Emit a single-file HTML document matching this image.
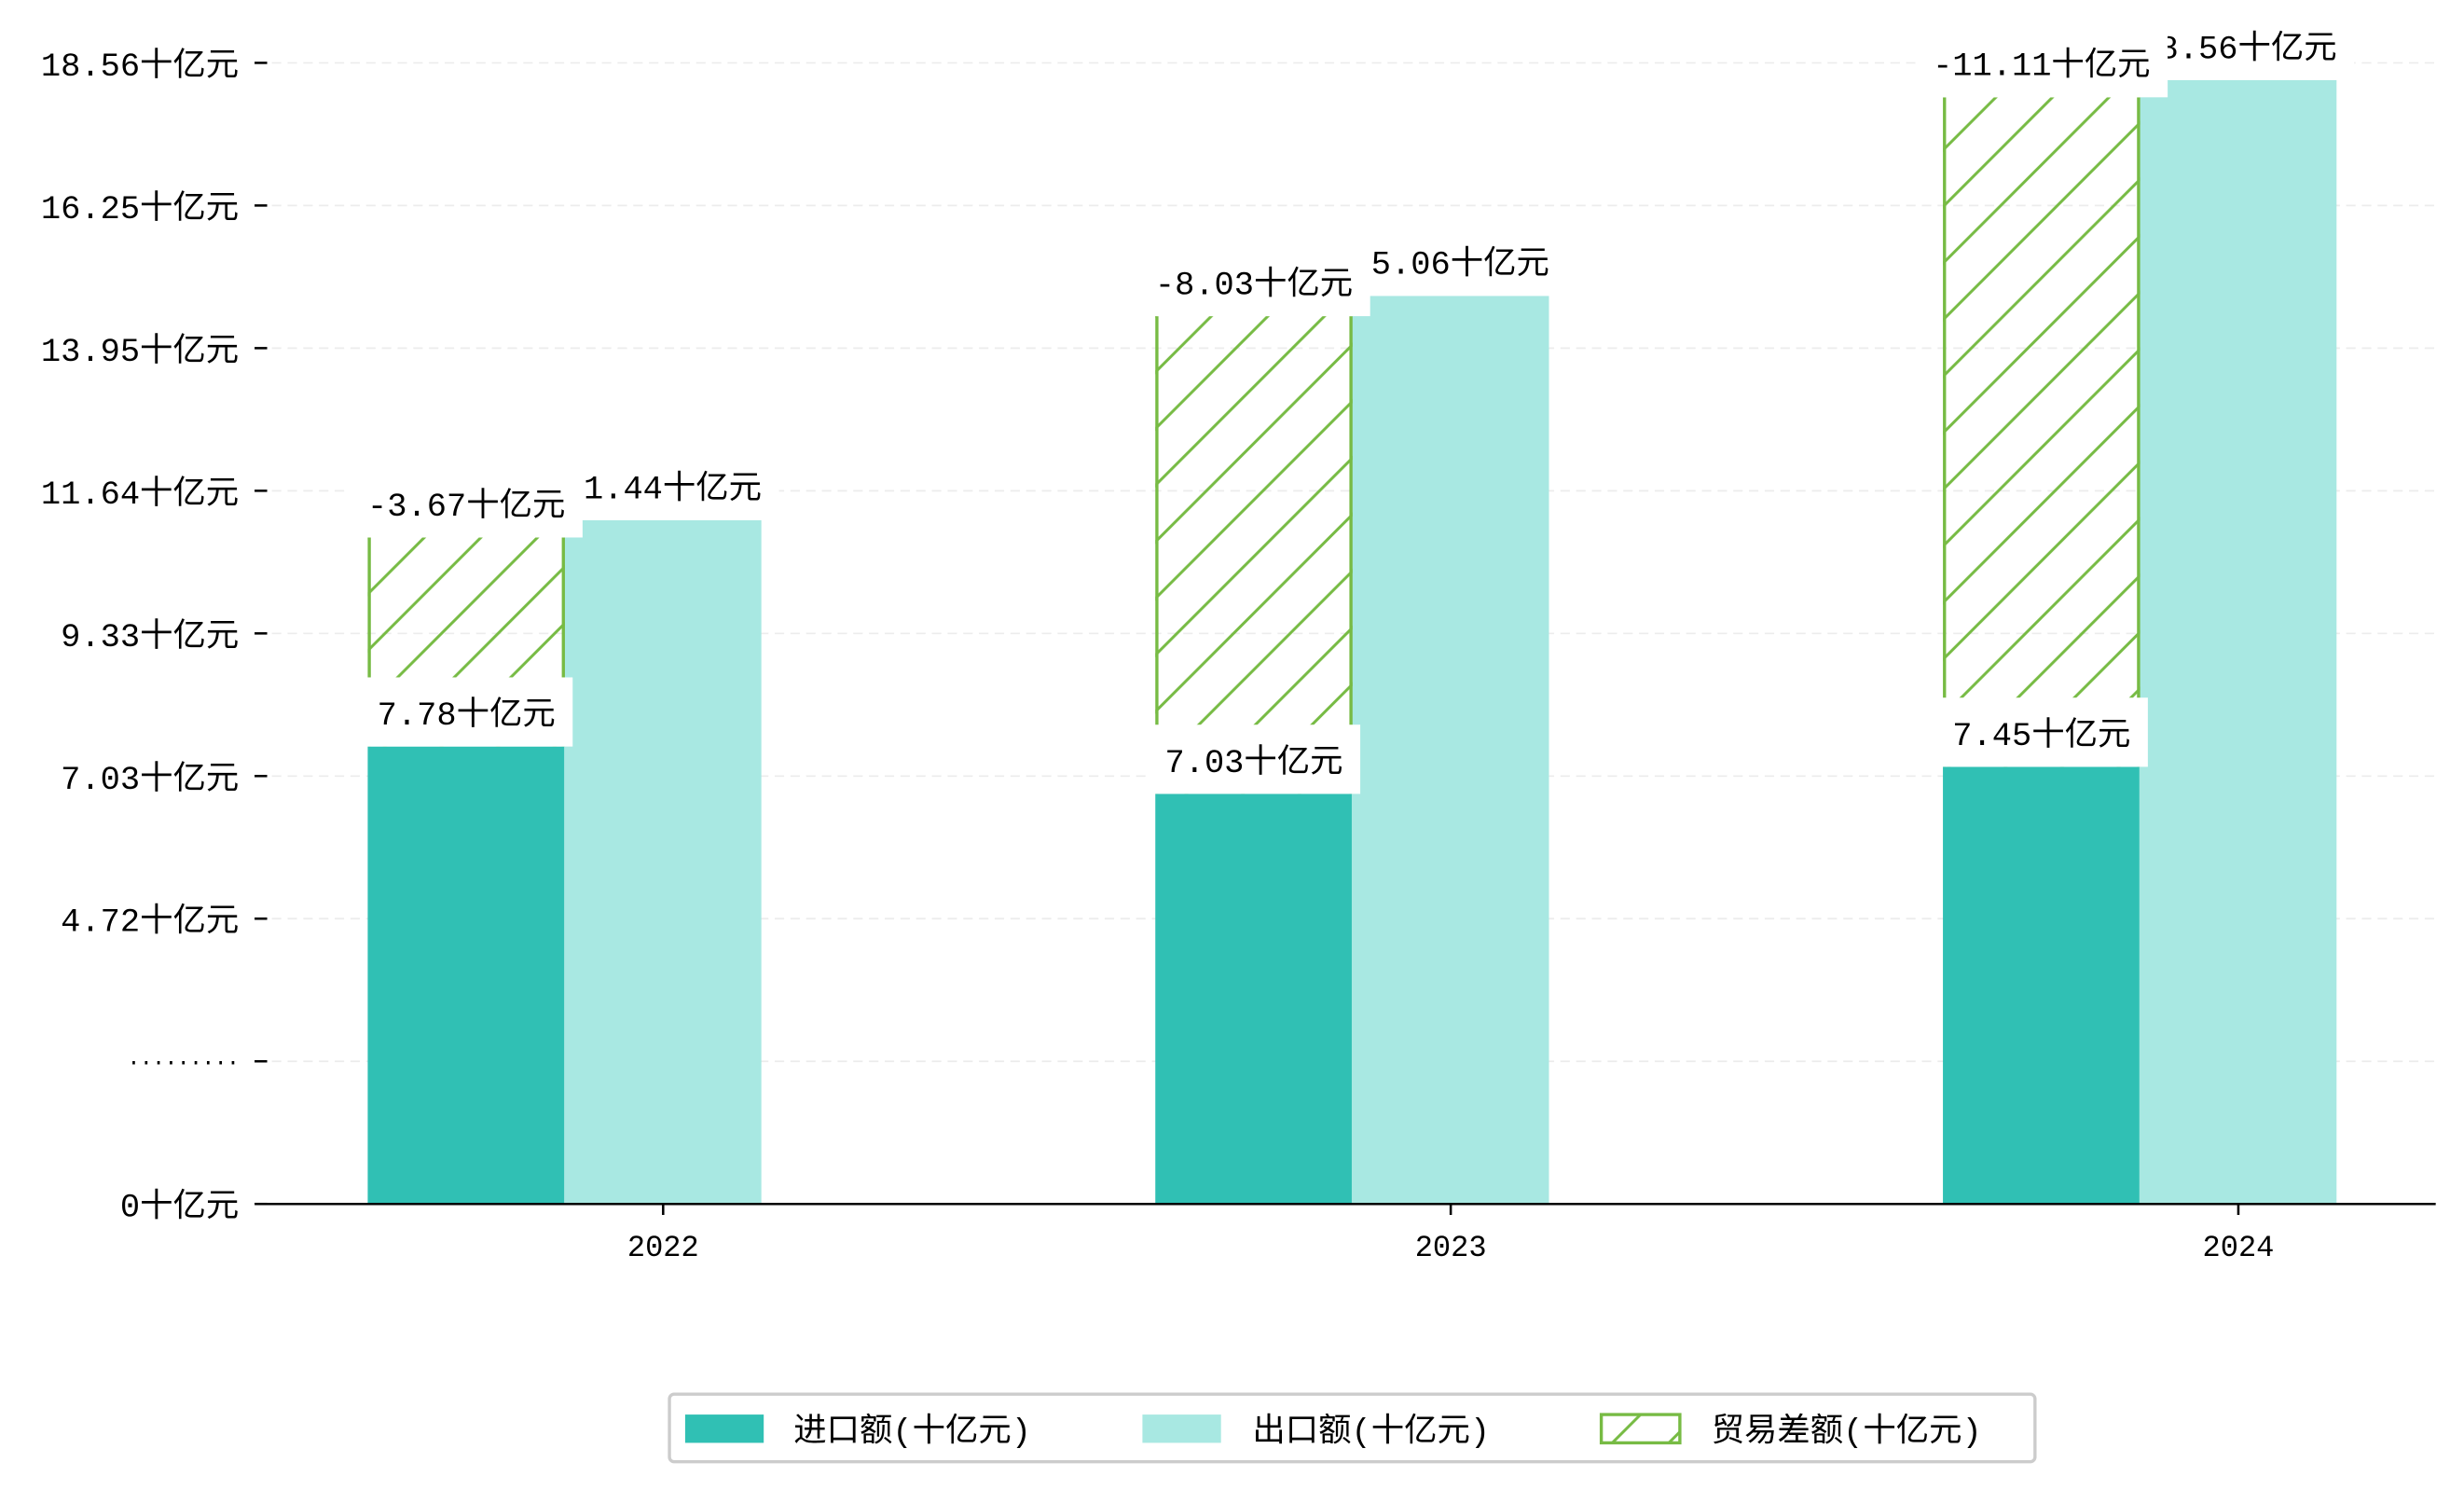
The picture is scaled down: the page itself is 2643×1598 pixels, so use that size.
<!DOCTYPE html>
<html><head><meta charset="utf-8"><style>
html,body{margin:0;padding:0;background:#fff;}
svg{display:block;}
text{font-family:"Liberation Mono","WenQuanYi Zen Hei Mono","WenQuanYi Zen Hei","Noto Sans CJK SC",monospace;}
</style></head><body>
<svg id="chart" width="2643" height="1598" viewBox="0 0 1568 948" preserveAspectRatio="none" xmlns="http://www.w3.org/2000/svg">
<defs>
<pattern id="hatch" patternUnits="userSpaceOnUse" width="36" height="36">
<path d="M-5,41 L41,-5 M-5,5 L5,-5 M31,41 L41,31" stroke="#77bb44" stroke-width="1.8"/>
</pattern>
</defs>
<g id="grid"></g><g id="bars"></g><g id="labels"></g><g id="axes"></g>
<g>
<rect x="426" y="887" width="869" height="43" fill="#fff" stroke="#ccc" stroke-width="2" rx="3"/>
<rect x="436" y="900" width="50" height="18" fill="#30c0b4"/>
<text x="505" y="917" font-size="21">进口额(十亿元)</text>
<rect x="727" y="900" width="50" height="18" fill="#a8e8e2"/>
<text x="797" y="917" font-size="21">出口额(十亿元)</text>
<rect x="1019" y="900" width="50" height="18" fill="url(#hatch)" stroke="#77bb44" stroke-width="2"/>
<text x="1089" y="917" font-size="21">贸易差额(十亿元)</text>
</g>
</svg>
<script>
const years = ["2022","2023","2024"];
const imports = [7.44, 6.67, 7.11];
const exports_ = [11.12, 14.77, 18.28];
const balanceHeights = [3.40, 7.77, 10.89];
const importLabels = ["7.78十亿元","7.03十亿元","7.45十亿元"];
const exportLabels = ["11.44十亿元","15.06十亿元","18.56十亿元"];
const balanceLabels = ["-3.67十亿元","-8.03十亿元","-11.11十亿元"];
const yTicks = [0, 2.32, 4.64, 6.96, 9.28, 11.6, 13.92, 16.24, 18.56];
const yTickLabels = ["0十亿元",".........","4.72十亿元","7.03十亿元","9.33十亿元","11.64十亿元","13.95十亿元","16.25十亿元","18.56十亿元"];

const NS="http://www.w3.org/2000/svg";
const y0=766, yTop=40, yMax=18.56;
const y=v=>y0-(v/yMax)*(y0-yTop);
const xc=i=>422+i*501.2;
const bw=125.5;
function mk(tag,attrs,parent,txt){const e=document.createElementNS(NS,tag);for(const k in attrs)e.setAttribute(k,attrs[k]);if(txt!==undefined)e.textContent=txt;parent.appendChild(e);return e;}
const grid=document.getElementById('grid'),bars=document.getElementById('bars'),labels=document.getElementById('labels'),axes=document.getElementById('axes');

yTicks.forEach((t,i)=>{
  const g=mk('line',{x1:163,x2:1550,y1:y(t),y2:y(t),stroke:'#ececec','stroke-dasharray':'6,4'},grid);
  
  
  mk('line',{x1:162,x2:170,y1:y(t),y2:y(t),stroke:'#000','stroke-width':1.5},axes);
  const dots = yTickLabels[i].startsWith('.');
  const tl=mk('text',{x:152,y:y(t)+(dots?2:8),'font-size':dots?14:21,'letter-spacing':dots?'-0.5':'0','text-anchor':'end'},axes,yTickLabels[i]);
  
  
});
const ax=mk('line',{x1:163,x2:1550,y1:y0,y2:y0,stroke:'#000','stroke-width':1.5},axes);



function boxLabel(cx,cy,txt,name){
  const g=mk('g',{},labels);
  
  
  const r=mk('rect',{x:cx-60,y:cy-22,width:120,height:44,fill:'#fff'},g);
  const t=mk('text',{x:cx,y:cy+8,'font-size':21,'text-anchor':'middle'},g,txt);
  const w=t.getComputedTextLength()+22;
  r.setAttribute('x',cx-w/2);r.setAttribute('width',w);
}

years.forEach((yr,i)=>{
  const c=xc(i);
  const ix=c-188, ex=c-63;
  const ib=mk('rect',{x:ix,y:y(imports[i]),width:bw,height:y0-y(imports[i]),fill:'#30c0b4'},bars);
  
  
  const eb=mk('rect',{x:ex,y:y(exports_[i]),width:bw,height:y0-y(exports_[i]),fill:'#a8e8e2'},bars);
  
  
  const top=y(imports[i]+balanceHeights[i]);
  const hb=mk('rect',{x:ix,y:top,width:bw,height:y(imports[i])-top,fill:'url(#hatch)'},bars);
  
  
  mk('line',{x1:ix+1,x2:ix+1,y1:top,y2:y(imports[i]),stroke:'#77bb44','stroke-width':2},bars);
  mk('line',{x1:ix+bw-1,x2:ix+bw-1,y1:top,y2:y(imports[i]),stroke:'#77bb44','stroke-width':2},bars);
  const xt=mk('text',{x:c,y:y0+33,'font-size':19,'text-anchor':'middle'},axes,yr);
  
  
  mk('line',{x1:c,x2:c,y1:y0,y2:y0+7,stroke:'#000','stroke-width':1.5},axes);
  boxLabel(ex+bw/2,y(exports_[i])-22,exportLabels[i],'export-label-'+yr);
  boxLabel(ix+bw/2,top-22,balanceLabels[i],'balance-label-'+yr);
  boxLabel(ix+bw/2,y(imports[i])-22,importLabels[i],'import-label-'+yr);
});
</script>
</body></html>
